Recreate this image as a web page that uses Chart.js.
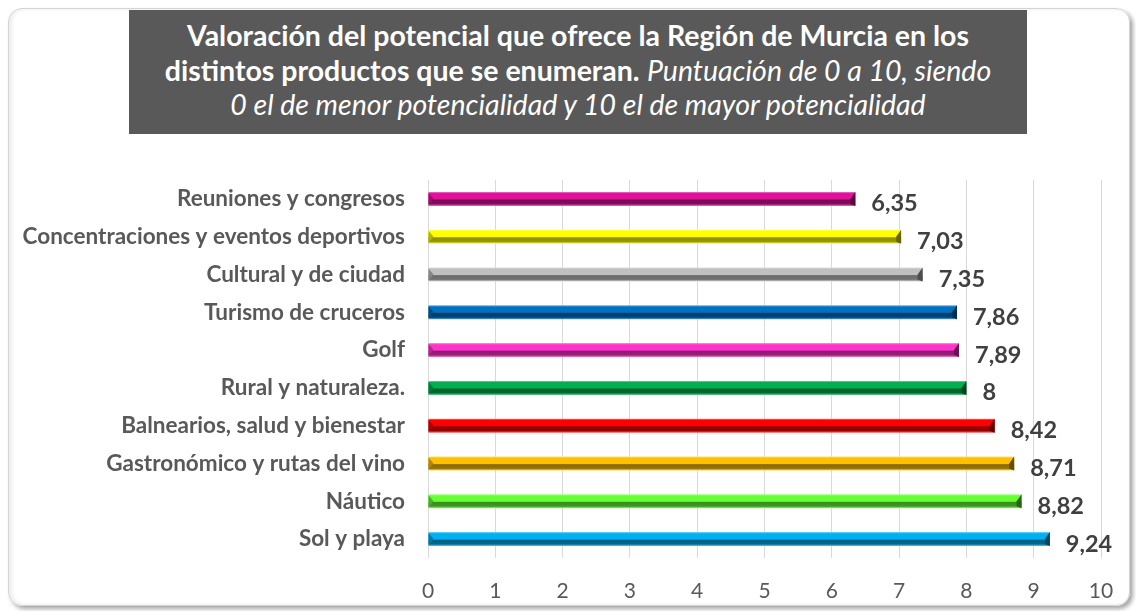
<!DOCTYPE html>
<html>
<head>
<meta charset="utf-8">
<script src="https://cdn.jsdelivr.net/npm/chart.js@4"></script>
<style>
  body { margin: 0; background: #fff; font-family: Lato, "Noto Sans", sans-serif; }
  #page { position: relative; width: 1136px; height: 611px; overflow: hidden; }
  #frame {
    position: absolute; left: 8px; top: 8px; width: 1120px; height: 596px;
    border: 1px solid #d4d4d4; border-radius: 14px;
    box-shadow: 3px 3px 4px rgba(0,0,0,0.35), inset 3px 0 4px rgba(0,0,0,0.08);
  }
  #title {
    position: absolute; left: 129px; top: 10px; width: 898px; height: 124px;
    background: #595959; color: #fff; text-align: center;
    font-size: 28.5px; line-height: 34.5px; padding-top: 8px; box-sizing: border-box;
    white-space: nowrap;
  }
  #title b { font-weight: 700; }
  #title i { font-style: italic; }
  #wrap { position: absolute; left: 0; top: 0; width: 1136px; height: 611px; }
</style>
</head>
<body>
<div id="page">
  <div id="frame"></div>
  <div id="title">
    <b>Valoración del potencial que ofrece la Región de Murcia en los<br>distintos productos que se enumeran.</b> <i>Puntuación de 0 a 10, siendo<br>0 el de menor potencialidad y 10 el de mayor potencialidad</i>
  </div>
  <div id="wrap"><canvas id="chart"></canvas></div>
</div>
<script>
const categories = [
  "Reuniones y congresos",
  "Concentraciones y eventos deportivos",
  "Cultural y de ciudad",
  "Turismo de cruceros",
  "Golf",
  "Rural y naturaleza.",
  "Balnearios, salud y bienestar",
  "Gastronómico y rutas del vino",
  "Náutico",
  "Sol y playa"
];
const scores = [6.35, 7.03, 7.35, 7.86, 7.89, 8, 8.42, 8.71, 8.82, 9.24];
const barColors = [
  "#E0119A", "#FFFF00", "#C0C0C0", "#0070C0", "#FF33CC",
  "#00B050", "#FF0000", "#FFC000", "#66FF33", "#00B0F0"
];
const xTicks = [0, 1, 2, 3, 4, 5, 6, 7, 8, 9, 10];

// mix a hex colour with white (amt>0) or black (amt<0)
function shade(hex, amt) {
  const n = parseInt(hex.slice(1), 16);
  let r = n >> 16, g = (n >> 8) & 255, b = n & 255;
  const t = amt < 0 ? 0 : 255, p = Math.abs(amt);
  r = Math.round(r + (t - r) * p);
  g = Math.round(g + (t - g) * p);
  b = Math.round(b + (t - b) * p);
  return `rgb(${r},${g},${b})`;
}

// cylinder look: gradient across the bar thickness
function barFill(c) {
  const chart = c.chart;
  const base = barColors[c.dataIndex];
  if (!chart.chartArea) return base;
  const y = chart.scales.y;
  const mid = y.getPixelForValue(c.dataIndex);
  const band = (y.bottom - y.top) / categories.length;
  const h = band * 0.37;
  const g = chart.ctx.createLinearGradient(0, mid - h / 2, 0, mid + h / 2);
  g.addColorStop(0, shade(base, 0.45));
  g.addColorStop(0.12, base);
  g.addColorStop(0.5, base);
  g.addColorStop(0.58, shade(base, -0.45));
  g.addColorStop(0.85, shade(base, -0.4));
  g.addColorStop(1, shade(base, 0.35));
  return g;
}

const bevels = {
  id: "bevels",
  afterDatasetsDraw(chart) {
    const ctx = chart.ctx;
    chart.getDatasetMeta(0).data.forEach((bar, i) => {
      const top = bar.y - bar.height / 2, bot = bar.y + bar.height / 2;
      ctx.save();
      ctx.fillStyle = shade(barColors[i], -0.6);
      ctx.beginPath();
      ctx.moveTo(bar.x, top);
      ctx.lineTo(bar.x, bot);
      ctx.lineTo(bar.x - 5, bot - 2);
      ctx.lineTo(bar.x - 5, bar.y);
      ctx.closePath();
      ctx.fill();
      ctx.fillStyle = shade(barColors[i], -0.3);
      ctx.beginPath();
      ctx.moveTo(bar.base, top + 1);
      ctx.lineTo(bar.base + 5, bar.y);
      ctx.lineTo(bar.base, bot - 1);
      ctx.closePath();
      ctx.fill();
      ctx.restore();
    });
  }
};

const valueLabels = {
  id: "valueLabels",
  afterDatasetsDraw(chart) {
    const ctx = chart.ctx;
    ctx.save();
    ctx.font = "bold 23.5px Lato";
    ctx.fillStyle = "#404040";
    ctx.textBaseline = "middle";
    chart.getDatasetMeta(0).data.forEach((bar, i) => {
      ctx.fillText(String(scores[i]).replace(".", ","), bar.x + 16, bar.y + 5);
    });
    ctx.restore();
  }
};

new Chart(document.getElementById("chart"), {
  type: "bar",
  data: {
    labels: categories,
    datasets: [{
      data: scores,
      backgroundColor: barFill,
      borderWidth: 0,
      barPercentage: 0.37,
      categoryPercentage: 1
    }]
  },
  options: {
    indexAxis: "y",
    responsive: true,
    maintainAspectRatio: false,
    animation: false,
    layout: { padding: { left: 0, right: 35, top: 180, bottom: 13 } },
    plugins: { legend: { display: false }, tooltip: { enabled: false } },
    scales: {
      x: {
        min: 0, max: 10,
        afterBuildTicks: s => { s.ticks = xTicks.map(v => ({ value: v })); },
        afterFit: s => { s.height = 40; },
        grid: { color: "#d9d9d9", lineWidth: 1, drawTicks: false },
        border: { display: false },
        ticks: { color: "#595959", font: { family: "Lato", size: 21 }, padding: 21 }
      },
      y: {
        afterFit: s => { s.width = 428; },
        grid: { display: false, drawTicks: false },
        border: { display: false },
        ticks: { color: "#595959", font: { family: "Lato", size: 22.5, weight: "bold" }, padding: 23 }
      }
    }
  },
  plugins: [bevels, valueLabels]
});
</script>
</body>
</html>
